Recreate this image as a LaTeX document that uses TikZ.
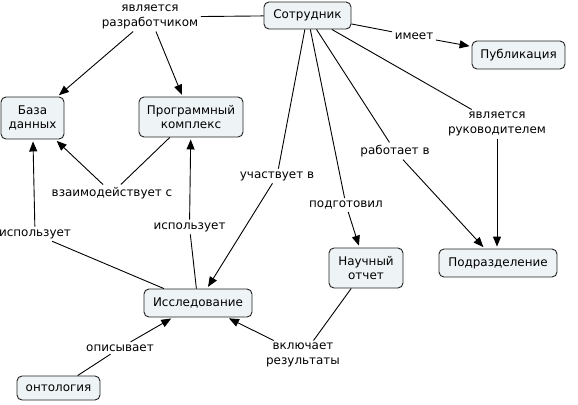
\documentclass[tikz,border=0pt]{standalone}
\usepackage{fontspec}
\setmainfont{DejaVu Sans}
\usetikzlibrary{arrows.meta}
\definecolor{nodefill}{HTML}{EEF3F5}
\definecolor{edgecol}{HTML}{222222}
\tikzset{
  concept/.style={draw=edgecol, fill=nodefill, rounded corners=5bp, line width=0.9bp,
    align=center, inner sep=0pt, font=\fontsize{12}{14.5}\selectfont},
  lab/.style={align=center, inner sep=2.5bp, font=\fontsize{12}{14.5}\selectfont},
  link/.style={draw=black, line width=0.9bp},
  arr/.style={link, -{Triangle[length=10bp,width=8bp]}, shorten >=2bp}
}
\begin{document}
\begin{tikzpicture}[x=1bp,y=-1bp]
\useasboundingbox (0,0) rectangle (578,404);
% concepts
\node[concept, minimum width=87bp, minimum height=27bp] (sotr) at (307.5,15.5) {Сотрудник};
\node[concept, minimum width=93bp, minimum height=28bp] (publ) at (518.5,55) {Публикация};
\node[concept, minimum width=63bp, minimum height=42bp] (baza) at (32.5,118) {База\\данных};
\node[concept, minimum width=104bp, minimum height=40bp] (prog) at (191,117) {Программный\\комплекс};
\node[concept, minimum width=108bp, minimum height=28bp] (issl) at (198,303) {Исследование};
\node[concept, minimum width=83bp, minimum height=24bp] (onto) at (58.5,388) {онтология};
\node[concept, minimum width=74bp, minimum height=40bp] (nauch) at (366,268) {Научный\\отчет};
\node[concept, minimum width=118bp, minimum height=28bp] (podr) at (498,263) {Подразделение};
% link labels
\node[lab] (lrazr) at (150,17) {является\\разработчиком};
\node[lab] (limeet) at (414,36) {имеет};
\node[lab] (lruk) at (497,124) {является\\руководителем};
\node[lab] (lrab) at (395,151) {работает в};
\node[lab] (luch) at (277,176) {участвует в};
\node[lab] (lpodg) at (346,205) {подготовил};
\node[lab] (lvz) at (112,193) {взаимодействует с};
\node[lab] (lisp1) at (35,234) {использует};
\node[lab] (lisp2) at (189.5,227) {использует};
\node[lab] (lopis) at (120,348) {описывает};
\node[lab] (lvkl) at (303,355) {включает\\результаты};
% connectors
\draw[link] (sotr) -- (lrazr);
\draw[arr] (lrazr) -- (baza);
\draw[arr] (lrazr) -- (prog);
\draw[link] (sotr) -- (limeet);
\draw[arr] (limeet) -- (publ);
\draw[link] (sotr) -- (lruk);
\draw[arr] (lruk.south) -- (lruk.south |- podr.north);
\draw[link] (sotr) -- (lrab);
\draw[arr] (lrab) -- (podr);
\draw[link] (sotr) -- (luch);
\draw[arr] (luch) -- (issl);
\draw[link] (sotr) -- (lpodg);
\draw[arr] (lpodg) -- (nauch);
\draw[link] (prog) -- (lvz);
\draw[arr] (lvz) -- (baza);
\draw[link] (issl) -- (lisp1);
\draw[arr] (lisp1) -- (baza);
\draw[link] (issl) -- (lisp2);
\draw[arr] (lisp2) -- (prog);
\draw[link] (onto) -- (lopis);
\draw[arr] (lopis) -- (issl);
\draw[link] (nauch) -- (lvkl);
\draw[arr] (lvkl) -- (issl);
\end{tikzpicture}
\end{document}
